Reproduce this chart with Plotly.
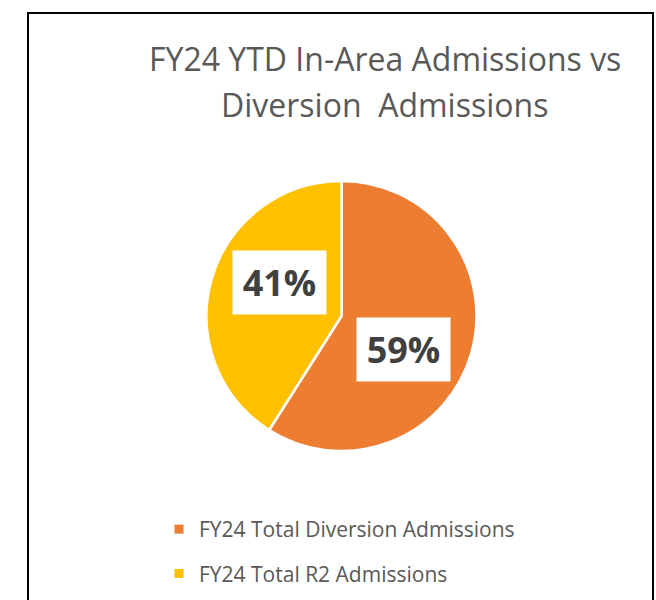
import math
import plotly.graph_objects as go

# ---- data ----
labels = ["FY24 Total Diversion Admissions", "FY24 Total R2 Admissions"]
values = [59, 41]
colors = ["#ED7D31", "#FFC000"]
title_lines = ["FY24 YTD In-Area Admissions vs", "Diversion  Admissions"]

W, H = 656, 600
FONT = "'Open Sans', Lato, sans-serif"

dom_x = [205 / W, 478 / W]
dom_y = [1 - 451 / H, 1 - 181 / H]

fig = go.Figure()
fig.add_trace(go.Pie(
    labels=labels, values=values, sort=False, direction="clockwise", rotation=0,
    marker=dict(colors=colors, line=dict(color="white", width=2.5)),
    textinfo="none", hoverinfo="label+percent", showlegend=False,
    domain=dict(x=dom_x, y=dom_y),
))

# legend entries (square markers) built from the same labels/colors
for i, (lab, col) in enumerate(zip(labels, colors)):
    fig.add_trace(go.Scatter(
        x=[None], y=[None], mode="markers", name=lab, legendgroup=f"g{i}",
        marker=dict(symbol="square", size=9, color=col),
    ))

# percentage labels in white boxes, placed from each slice's angle
cx = (dom_x[0] + dom_x[1]) / 2
cy = (dom_y[0] + dom_y[1]) / 2
R_px = 134.5
label_r = 0.52 * R_px
label_shift = math.radians(12)
total = sum(values)
cum = 0
annotations = []
for v in values:
    mid = (cum + v / 2) / total * 2 * math.pi + label_shift
    cum += v
    ax = cx + label_r * math.sin(mid) / W
    ay = cy + label_r * math.cos(mid) / H
    annotations.append(dict(
        x=ax, y=ay, xref="paper", yref="paper", showarrow=False,
        text=f"<b>{round(v / total * 100)}%</b>",
        font=dict(family=FONT, size=36, color="#404040"),
        bgcolor="white", width=91, height=61, align="center", valign="middle",
    ))

# title (two lines)
title_y = [58, 104]
for line, ypx in zip(title_lines, title_y):
    annotations.append(dict(
        x=384.5 / W, y=1 - ypx / H, xref="paper", yref="paper", showarrow=False,
        text=line, font=dict(family=FONT, size=32, color="#595959"),
        xanchor="center", yanchor="middle",
    ))

fig.update_layout(
    width=W, height=H,
    margin=dict(l=0, r=0, t=0, b=0),
    paper_bgcolor="white", plot_bgcolor="white",
    xaxis=dict(visible=False, range=[0, 1]),
    yaxis=dict(visible=False, range=[0, 1]),
    annotations=annotations,
    showlegend=True,
    legend=dict(
        x=159 / W, y=1 - 509 / H, xanchor="left", yanchor="top",
        font=dict(family=FONT, size=21, color="#595959"),
        traceorder="grouped", tracegroupgap=14, bgcolor="rgba(0,0,0,0)",
        itemclick=False, itemdoubleclick=False,
    ),
    shapes=[dict(type="rect", xref="paper", yref="paper",
                 x0=28 / W, x1=653 / W, y0=-0.02, y1=1 - 13 / H,
                 line=dict(color="black", width=2), fillcolor="rgba(0,0,0,0)")],
)

fig.write_html("out.html", config={"displayModeBar": False},
               post_script="document.body.style.margin='0';")
